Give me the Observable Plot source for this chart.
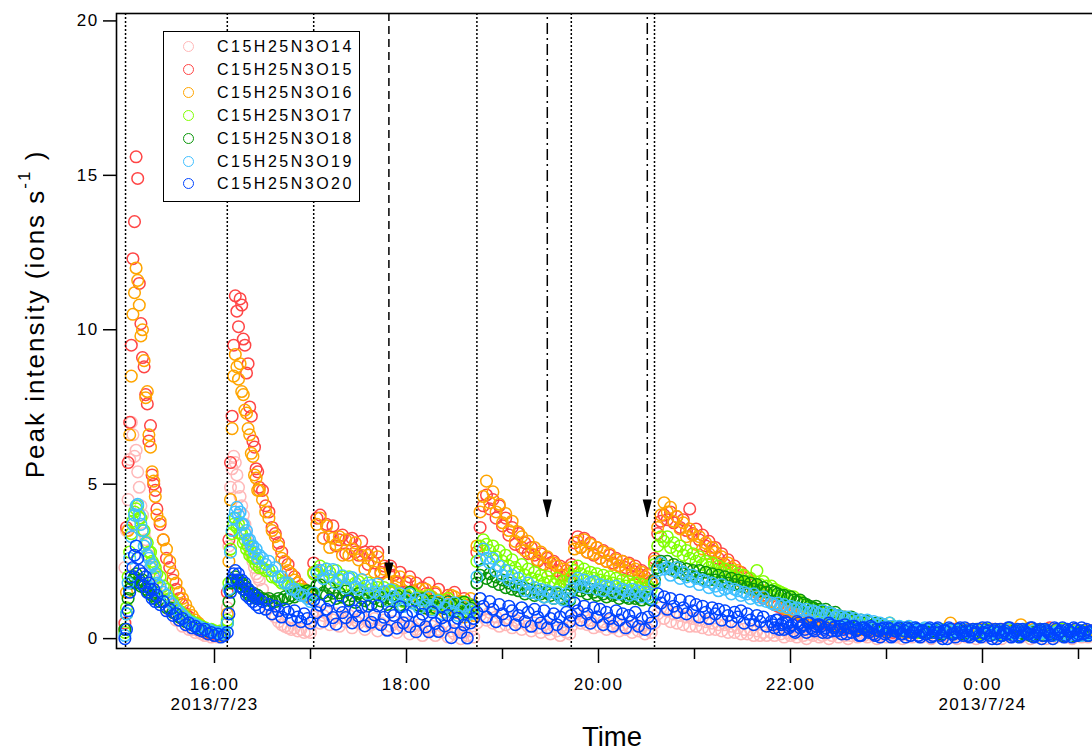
<!DOCTYPE html>
<html><head><meta charset="utf-8">
<script src="https://cdn.jsdelivr.net/npm/d3@7"></script>
<script src="https://cdn.jsdelivr.net/npm/@observablehq/plot@0.6"></script>
<style>
body{margin:0;background:#fff;}
#wrap{position:relative;width:1092px;height:751px;overflow:hidden;font-family:"Liberation Sans",Arial,Helvetica,sans-serif;}
#legend{position:absolute;left:163px;top:31px;width:197px;height:171px;box-sizing:border-box;border:1.4px solid #000;background:#fff;}
.row{position:absolute;left:0;height:20px;width:192px;line-height:20px;font-size:16px;letter-spacing:2.5px;white-space:nowrap;color:#000}
.sw{position:absolute;left:19px;top:4px;width:9px;height:9px;border:1.5px solid;border-radius:50%;}
.lab{position:absolute;left:53px;top:0;}
</style></head>
<body><div id="wrap"><div id="legend"></div></div>
<script>
// ---------- data (sample times in minutes after 15:00, 2013/7/23) ----------
const minutes = [
  4,5,6,7,8,9,10,11,12,13,14,15,16,17,18,19,20,21,22,23,24,
  26,28,30,32,34,36,38,40,42,44,46,48,50,52,54,56,58,60,62,64,66,
  68,69,70,71,72,73,74,75,76,77,78,79,80,81,82,83,84,85,86,87,88,
  90,92,94,96,98,100,102,104,106,108,110,112,114,116,118,120,
  122,124,126,128,130,132,134,136,138,140,142,144,146,148,150,152,154,156,158,160,162,164,166,168,170,172,174,176,178,180,182,184,186,188,190,192,194,196,198,200,202,204,206,208,210,212,214,216,218,220,222,
  224,226,228,230,232,234,236,238,240,242,244,246,248,250,252,254,256,258,260,262,264,266,268,270,272,274,276,278,280,282,
  283,285,287,289,291,293,295,297,299,301,303,305,307,309,311,313,315,317,319,321,323,325,327,329,331,333,
  335,337,339,341,343,345,347,349,351,353,355,357,359,361,363,365,367,369,371,373,375,377,379,381,383,385,387,389,391,393,395,397,399,401,403,405,
  408,410,412,414,416,418,420,422,424,426,428,430,432,434,436,438,440,442,444,446,448,450,452,454,456,458,460,462,464,466,468,470,472,474,476,478,480,482,484,486,488,490,492,494,496,498,500,502,504,506,508,510,512,514,516,518,520,522,524,526,528,530,532,534,536,538,540,542,544,546,548,550,552,554,556,558,560,562,564,566,568,570,572,574,576,578,580,582,584,586,588,590,592,594,596,598,600,602,604,606,608
];

const o14 = [
  2.3,3.5,4.5,5.8,7.0,6.6,5.9,6.1,5.4,4.9,4.3,4.0,3.4,3.2,2.7,2.7,2.3,2.3,1.9,2.0,1.7,
  1.6,1.3,1.2,0.9,0.9,0.6,0.6,0.4,0.45,0.3,0.3,0.2,0.25,0.15,0.1,0.15,0.05,0.1,0.05,0.1,0.15,
  1.0,3.0,4.9,5.5,5.9,5.7,5.3,4.9,4.6,4.3,4.0,3.7,3.4,3.1,2.9,2.7,2.5,2.3,2.1,2.0,1.9,
  1.6,1.3,1.0,0.8,0.7,0.55,0.45,0.4,0.35,0.3,0.35,0.25,0.3,0.2,0.25,0.2,
  0.7,0.9,0.5,0.75,0.85,0.45,0.6,0.8,0.4,0.65,0.55,0.75,0.35,0.6,0.5,0.7,0.3,0.55,0.45,0.65,0.25,0.5,0.6,0.3,0.4,0.55,0.2,0.45,0.35,0.5,0.15,0.4,0.3,0.45,0.1,0.35,0.25,0.4,0.1,0.3,0.2,0.35,0.05,0.25,0.15,0.3,0.0,0.2,0.1,0.25,0.05,
  0.5,0.75,0.95,0.6,0.85,0.5,0.7,0.4,0.8,0.45,0.65,0.35,0.6,0.5,0.3,0.55,0.4,0.25,0.5,0.35,0.2,0.45,0.3,0.15,0.4,0.25,0.1,0.35,0.2,0.15,
  0.4,0.65,0.8,0.5,0.7,0.45,0.6,0.35,0.7,0.4,0.55,0.3,0.6,0.35,0.5,0.25,0.45,0.3,0.4,0.2,0.45,0.25,0.35,0.15,0.3,0.2,
  0.5,0.8,1.0,0.65,0.9,0.55,0.8,0.5,0.75,0.45,0.7,0.4,0.65,0.4,0.6,0.35,0.55,0.3,0.5,0.3,0.45,0.25,0.45,0.2,0.4,0.2,0.35,0.15,0.3,0.15,0.3,0.1,0.25,0.1,0.2,0.1,
  0.2,0.1,0.25,0.15,0.05,0.2,0.1,0.15,0.05,0.2,0.1,0.0,0.15,0.1,0.2,0.05,0.1,0.15,0.0,0.1,0.2,0.05,0.15,0.1,0.0,0.1,0.15,0.05,0.2,0.1,0.05,0.15,0.1,0.0,0.1,0.2,0.05,0.1,0.15,0.05,0.1,0.0,0.15,0.1,0.05,0.2,0.1,0.05,0.15,0.1,
  0.0,0.1,0.15,0.05,0.1,0.2,0.05,0.1,0.0,0.15,0.1,0.05,0.15,0.1,0.0,0.1,0.2,0.05,0.1,0.15,0.05,0.1,0.0,0.15,0.1,0.05,0.2,0.1,0.05,0.1,0.15,0.0,0.1,0.05,0.15,0.1,0.0,0.1,0.2,0.05,0.1,0.15,0.05,0.1,0.0,0.1,0.15,0.05,0.1,0.05,0.1
];
const o15 = [
  0.5,3.6,5.7,7.0,9.5,12.3,13.5,15.6,14.9,11.5,10.2,9.1,8.8,7.9,7.6,6.4,6.9,5.3,5.0,4.8,4.2,
  3.7,3.2,2.6,2.3,1.9,1.6,1.3,1.1,0.8,0.7,0.5,0.45,0.3,0.3,0.2,0.25,0.15,0.1,0.2,0.1,0.15,
  1.5,3.2,5.7,7.2,9.5,11.1,10.6,10.1,11.0,10.8,9.7,9.5,8.6,8.9,7.5,7.2,6.4,6.2,5.5,5.4,4.9,
  4.8,4.3,4.1,3.6,3.4,3.1,2.8,2.5,2.4,2.1,2.0,1.8,1.7,1.6,1.4,1.5,
  2.45,3.9,4.0,3.25,3.7,3.3,3.65,3.0,3.2,3.35,2.75,3.2,3.25,2.8,2.7,3.15,2.8,2.4,2.8,2.45,2.8,2.15,2.35,1.85,2.35,2.05,1.8,2.15,1.5,1.8,2.0,1.55,1.8,1.3,1.65,1.45,1.8,1.2,1.45,1.6,1.0,1.25,1.4,1.05,1.5,0.85,1.15,1.3,0.85,1.1,0.95,
  2.8,3.6,4.3,4.65,4.2,4.5,3.9,4.3,3.65,3.9,3.35,3.6,3.05,3.4,2.95,3.1,2.75,2.95,2.7,2.5,2.75,2.4,2.6,2.45,2.5,2.2,2.35,2.05,2.2,1.9,
  2.4,3.1,3.3,2.95,3.25,2.8,3.1,2.7,2.95,2.6,2.85,2.5,2.7,2.45,2.6,2.35,2.5,2.3,2.45,2.2,2.35,2.1,2.2,2.0,2.1,1.85,
  2.6,3.4,3.8,4.0,3.85,4.1,3.75,3.95,3.6,3.85,3.5,4.2,3.4,3.55,3.2,3.35,3.0,3.15,2.85,2.95,2.6,2.75,2.4,2.55,2.2,2.35,2.0,2.15,1.8,1.95,1.6,1.75,1.5,1.55,1.3,1.4,
  1.2,1.1,1.05,1.0,0.95,0.9,0.85,0.8,0.8,0.75,0.7,0.65,0.65,0.6,0.55,0.55,0.5,0.5,0.45,0.45,0.4,0.45,0.4,0.35,0.4,0.35,0.3,0.35,0.3,0.35,0.3,0.25,0.3,0.35,0.25,0.3,0.25,0.3,0.2,0.3,0.25,0.3,0.2,0.25,0.3,0.2,0.25,0.3,0.2,0.25,
  0.3,0.2,0.25,0.2,0.3,0.25,0.2,0.3,0.2,0.25,0.2,0.3,0.25,0.2,0.25,0.3,0.2,0.25,0.2,0.3,0.25,0.2,0.3,0.2,0.25,0.2,0.3,0.25,0.2,0.25,0.3,0.2,0.25,0.2,0.3,0.2,0.25,0.35,0.2,0.25,0.2,0.3,0.2,0.25,0.2,0.3,0.25,0.2,0.25,0.2,0.25
];
const o16 = [
  0.3,1.5,3.5,6.6,8.5,10.5,11.2,12.0,11.6,10.8,9.8,10.0,9.0,7.8,8.0,6.6,6.2,5.4,5.1,4.6,4.0,
  3.8,3.2,2.9,2.5,2.1,1.8,1.5,1.3,1.1,0.9,0.75,0.6,0.5,0.4,0.3,0.3,0.2,0.2,0.15,0.1,0.15,
  0.8,2.5,4.5,6.8,8.5,9.2,8.8,8.4,8.9,8.0,7.9,7.4,7.3,6.8,6.6,6.0,5.9,5.3,5.2,4.8,4.8,
  4.5,4.1,3.9,3.5,3.3,3.0,2.6,2.5,2.2,2.1,1.9,1.8,1.6,1.6,1.4,1.3,
  2.15,3.7,3.9,3.25,3.65,2.95,3.25,3.05,3.3,2.7,3.2,2.7,2.9,3.1,2.55,2.7,2.25,2.7,2.55,2.15,2.65,2.1,2.25,1.8,2.2,1.6,1.85,2.0,1.55,1.35,1.85,1.5,1.25,1.6,1.35,1.6,0.95,1.35,1.5,1.05,1.25,0.85,1.3,1.4,1.35,1.0,1.2,0.7,1.05,1.3,0.75,
  3.0,4.1,4.6,5.1,4.4,4.75,4.1,4.35,3.75,4.05,3.5,3.8,3.15,3.45,3.3,2.85,3.15,2.75,2.95,2.55,2.8,2.4,2.65,2.2,2.45,2.35,2.05,2.25,1.9,2.1,
  2.3,2.9,3.15,2.95,3.2,2.8,3.05,2.75,2.95,2.6,2.8,2.5,2.75,2.4,2.55,2.35,2.5,2.2,2.4,2.1,2.25,2.0,2.15,1.9,2.05,1.8,
  2.5,3.6,4.0,4.4,4.1,4.25,3.8,3.95,3.55,3.75,3.3,3.55,3.35,3.05,3.3,2.9,3.1,2.75,2.95,2.8,2.45,2.65,2.25,2.45,2.3,2.0,2.2,1.85,2.0,1.7,1.85,1.55,1.7,1.45,1.55,1.35,
  1.2,1.15,1.1,1.05,1.0,0.95,0.9,0.85,0.85,0.8,0.75,0.7,0.7,0.65,0.6,0.6,0.55,0.55,0.5,0.5,0.45,0.45,0.4,0.45,0.4,0.35,0.4,0.35,0.3,0.35,0.3,0.35,0.3,0.25,0.35,0.3,0.25,0.3,0.35,0.25,0.3,0.25,0.3,0.2,0.3,0.25,0.25,0.3,0.2,0.25,
  0.3,0.2,0.25,0.3,0.2,0.25,0.5,0.2,0.25,0.2,0.3,0.25,0.2,0.3,0.25,0.2,0.3,0.2,0.2,0.25,0.3,0.2,0.25,0.2,0.3,0.25,0.2,0.25,0.45,0.2,0.25,0.2,0.3,0.2,0.25,0.2,0.3,0.25,0.2,0.25,0.2,0.3,0.2,0.25,0.2,0.3,0.2,0.25,0.2,0.25,0.2
];
const o17 = [
  0.2,1.0,2.0,2.8,3.4,3.8,4.1,4.2,4.3,3.9,3.9,3.5,3.5,3.1,3.1,2.8,2.8,2.5,2.4,2.3,2.1,
  2.0,1.7,1.6,1.3,1.2,1.0,0.9,0.8,0.7,0.6,0.55,0.5,0.45,0.4,0.35,0.3,0.3,0.25,0.2,0.25,0.2,
  0.6,1.8,2.9,3.4,3.7,3.9,3.6,3.7,3.4,3.4,3.1,3.2,2.9,3.0,2.7,2.8,2.6,2.6,2.4,2.5,2.3,
  2.3,2.2,2.2,2.0,2.0,1.9,1.8,1.8,1.7,1.7,1.6,1.6,1.55,1.5,1.5,1.45,
  2.1,2.2,2.35,2.0,2.25,2.15,1.9,2.2,1.9,2.0,1.75,2.0,1.65,1.8,1.85,1.6,1.5,1.8,1.6,1.45,1.65,1.5,1.65,1.25,1.5,1.55,1.3,1.4,1.2,1.4,1.45,1.45,1.25,1.35,1.05,1.25,1.4,1.1,0.95,1.25,1.12,1.05,1.3,0.9,1.1,1.0,1.15,0.8,1.15,0.85,1.0,
  2.5,3.0,3.2,3.05,2.85,3.0,2.65,2.85,2.5,2.7,2.35,2.55,2.3,2.15,2.4,2.05,2.25,1.95,2.15,1.9,2.05,1.8,2.0,1.85,1.75,1.95,1.7,1.85,1.65,1.8,
  2.0,2.2,2.35,2.1,2.25,2.0,2.15,1.95,2.1,1.9,2.05,1.85,2.0,1.8,1.95,1.75,1.9,1.7,1.85,1.7,1.8,1.65,1.75,1.6,1.7,1.6,
  2.4,3.0,3.3,3.15,3.3,2.95,3.1,2.85,3.0,2.7,2.85,2.6,2.75,2.5,2.65,2.4,2.5,2.3,2.45,2.2,2.35,2.15,2.25,2.05,2.2,2.0,2.1,1.9,2.05,1.85,1.95,1.8,2.2,1.75,1.85,1.7,
  1.7,1.6,1.55,1.5,1.45,1.4,1.35,1.35,1.25,1.2,1.1,1.05,1.0,1.0,0.95,0.9,0.85,0.85,0.8,0.75,0.75,0.7,0.65,0.6,0.6,0.55,0.55,0.5,0.5,0.45,0.45,0.4,0.45,0.4,0.35,0.4,0.35,0.5,0.35,0.3,0.3,0.25,0.3,0.35,0.25,0.3,0.2,0.3,0.25,0.2,
  0.3,0.25,0.2,0.3,0.25,0.2,0.3,0.2,0.25,0.2,0.3,0.2,0.25,0.2,0.3,0.15,0.25,0.2,0.3,0.2,0.25,0.15,0.2,0.25,0.3,0.2,0.15,0.25,0.2,0.3,0.2,0.15,0.25,0.2,0.3,0.15,0.25,0.2,0.15,0.25,0.2,0.3,0.15,0.2,0.25,0.2,0.15,0.25,0.2,0.15,0.2
];
const o18 = [
  0.3,0.8,1.3,1.6,1.8,1.9,2.0,2.1,1.8,1.9,1.7,1.9,1.7,1.6,1.7,1.5,1.6,1.4,1.5,1.3,1.35,
  1.2,1.2,1.0,1.0,0.85,0.8,0.7,0.65,0.55,0.5,0.45,0.4,0.35,0.35,0.3,0.25,0.25,0.2,0.2,0.15,0.2,
  0.5,1.2,1.6,1.8,1.9,2.0,1.8,1.9,1.7,1.8,1.6,1.7,1.5,1.6,1.4,1.5,1.4,1.45,1.3,1.4,1.3,
  1.3,1.25,1.3,1.2,1.2,1.3,1.25,1.35,1.3,1.4,1.35,1.45,1.5,1.4,1.55,1.5,
  1.42,1.72,1.74,1.48,1.39,1.64,1.47,1.3,1.49,1.34,1.54,1.26,1.39,1.17,1.46,1.31,1.23,1.41,1.11,1.3,1.43,1.22,1.34,1.11,1.3,1.2,1.39,1.09,1.24,1.32,1.5,1.16,1.24,1.07,1.29,0.99,1.13,1.21,1.0,1.13,1.05,0.97,1.19,1.09,0.87,1.13,0.99,1.18,0.86,0.98,1.06,
  1.8,2.05,2.25,1.95,2.1,1.85,2.0,1.75,1.9,1.65,1.8,1.6,1.7,1.55,1.65,1.45,1.6,1.5,1.4,1.55,1.45,1.35,1.5,1.4,1.3,1.45,1.35,1.3,1.4,1.25,
  1.5,1.65,1.7,1.55,1.65,1.45,1.6,1.5,1.4,1.55,1.45,1.35,1.5,1.4,1.45,1.3,1.45,1.35,1.3,1.4,1.3,1.35,1.25,1.35,1.3,1.25,
  1.9,2.3,2.5,2.35,2.5,2.25,2.4,2.15,2.3,2.1,2.25,2.05,2.2,2.0,2.2,1.95,2.15,1.9,2.1,1.9,2.05,1.85,2.0,1.8,1.95,1.75,1.9,1.7,1.85,1.65,1.8,1.6,1.75,1.55,1.65,1.5,
  1.55,1.5,1.45,1.4,1.4,1.3,1.35,1.25,1.2,1.25,1.15,1.1,1.05,1.0,1.05,0.95,0.9,0.95,0.85,0.8,0.85,0.75,0.7,0.7,0.65,0.7,0.6,0.55,0.6,0.5,0.55,0.5,0.45,0.5,0.4,0.45,0.4,0.35,0.4,0.35,0.3,0.35,0.3,0.25,0.3,0.25,0.3,0.2,0.25,0.3,
  0.2,0.25,0.2,0.15,0.25,0.2,0.25,0.15,0.2,0.25,0.15,0.2,0.25,0.15,0.2,0.1,0.2,0.25,0.15,0.2,0.15,0.25,0.1,0.2,0.15,0.2,0.25,0.1,0.2,0.15,0.2,0.1,0.2,0.15,0.25,0.1,0.15,0.2,0.1,0.15,0.2,0.1,0.15,0.2,0.1,0.15,0.1,0.2,0.15,0.1,0.15
];
const o19 = [
  0.1,0.8,1.8,2.6,3.3,3.7,4.0,4.3,4.35,4.0,3.7,3.5,3.0,3.1,2.7,2.6,2.3,2.4,2.0,2.1,1.8,
  1.7,1.5,1.4,1.2,1.1,0.95,0.85,0.75,0.65,0.55,0.5,0.45,0.4,0.35,0.3,0.3,0.25,0.2,0.2,0.15,0.2,
  0.5,1.6,2.8,3.5,3.9,4.1,4.25,4.0,4.1,3.7,3.7,3.4,3.5,3.2,3.2,3.0,3.0,2.8,2.9,2.6,2.7,
  2.6,2.4,2.5,2.2,2.3,2.0,2.0,1.8,1.8,1.6,1.6,1.5,1.4,1.4,1.3,1.2,
  1.48,2.13,2.21,1.94,2.25,2.02,2.24,1.79,1.94,2.03,1.64,1.94,1.98,1.68,1.59,1.91,1.7,1.45,1.72,1.51,1.77,1.38,1.53,1.23,1.58,1.37,1.25,1.46,1.04,1.28,1.44,1.15,1.31,0.99,1.24,1.09,1.34,0.93,1.12,1.22,0.81,1.0,1.1,0.88,1.16,0.75,0.94,1.05,0.76,0.93,0.82,
  2.0,2.55,2.9,2.6,2.45,2.6,2.2,2.35,2.05,2.2,1.9,2.05,1.75,1.95,1.7,1.55,1.8,1.5,1.65,1.45,1.6,1.35,1.55,1.5,1.3,1.5,1.35,1.25,1.45,1.3,
  1.6,1.85,1.95,1.7,1.9,1.65,1.8,1.85,1.6,1.75,1.55,1.7,1.65,1.5,1.7,1.45,1.6,1.55,1.4,1.6,1.45,1.55,1.35,1.5,1.4,1.3,
  1.8,2.2,2.45,2.25,2.3,2.05,2.2,2.3,1.95,2.15,2.0,1.85,2.05,1.95,1.75,1.9,1.85,1.65,1.8,1.7,1.55,1.75,1.6,1.65,1.45,1.6,1.55,1.4,1.5,1.45,1.3,1.45,1.35,1.25,1.35,1.2,
  1.15,1.1,1.15,1.05,1.1,1.0,1.05,0.95,1.0,0.95,0.9,0.95,0.85,0.9,0.85,0.8,0.9,0.75,0.85,0.8,0.7,0.75,0.7,0.65,0.7,0.6,0.65,0.55,0.6,0.55,0.6,0.5,0.55,0.45,0.5,0.45,0.4,0.5,0.4,0.35,0.4,0.35,0.3,0.4,0.3,0.35,0.25,0.3,0.35,0.25,
  0.3,0.2,0.3,0.25,0.2,0.3,0.25,0.15,0.25,0.2,0.3,0.15,0.2,0.25,0.2,0.1,0.25,0.2,0.15,0.25,0.2,0.1,0.25,0.15,0.2,0.3,0.15,0.2,0.1,0.25,0.2,0.15,0.25,0.1,0.2,0.25,0.15,0.2,0.1,0.2,0.25,0.15,0.2,0.1,0.2,0.15,0.25,0.1,0.2,0.15,0.2
];
const o20 = [
  0.0,0.3,0.9,1.5,2.0,2.3,2.7,3.0,2.6,2.2,1.8,2.1,1.7,2.0,1.5,1.8,1.6,1.3,1.6,1.2,1.4,
  1.1,1.2,0.9,0.95,0.75,0.8,0.6,0.65,0.45,0.5,0.35,0.4,0.3,0.25,0.3,0.15,0.2,0.1,0.15,0.05,0.1,
  0.2,0.8,1.5,1.9,2.1,2.2,1.9,2.1,1.7,1.9,1.6,1.8,1.4,1.6,1.3,1.5,1.2,1.4,1.1,1.3,1.0,
  1.2,0.95,1.1,0.8,1.05,0.9,0.7,0.95,0.85,0.6,0.9,0.7,0.55,0.8,0.65,0.5,
  1.25,0.84,1.08,0.56,0.95,1.24,0.68,0.47,1.05,0.84,0.68,1.22,0.51,0.89,0.73,1.02,0.41,1.05,0.53,0.77,1.06,0.45,0.69,0.27,0.86,0.75,0.34,1.03,0.51,0.75,0.39,0.88,0.22,0.6,0.79,0.38,0.22,0.86,0.49,0.23,0.67,0.41,0.75,0.03,0.52,0.66,0.2,0.44,0.02,0.51,0.65,
  0.85,1.3,1.05,0.7,1.2,0.95,0.55,1.1,0.8,0.6,1.05,0.9,0.45,0.75,1.0,0.55,0.85,0.4,0.95,0.7,0.5,0.9,0.35,0.65,0.8,0.45,0.7,0.3,0.85,0.55,
  0.75,1.15,0.9,0.6,1.05,0.8,0.5,1.0,0.7,0.95,0.45,0.85,0.65,0.4,0.9,0.6,0.8,0.35,0.75,0.55,0.85,0.4,0.65,0.3,0.7,0.5,
  0.9,1.45,1.15,1.35,0.95,1.3,1.05,0.85,1.25,1.0,0.8,1.2,0.9,1.1,0.7,1.05,0.85,0.65,1.0,0.8,0.95,0.6,0.9,0.75,0.55,0.85,0.7,0.9,0.5,0.8,0.6,0.45,0.75,0.55,0.7,0.4,
  0.55,0.35,0.6,0.45,0.3,0.5,0.4,0.25,0.55,0.35,0.45,0.2,0.5,0.3,0.4,0.45,0.2,0.35,0.5,0.25,0.4,0.3,0.15,0.45,0.35,0.2,0.4,0.3,0.1,0.35,0.25,0.4,0.15,0.3,0.05,0.35,0.2,0.3,0.1,0.25,0.35,0.15,0.05,0.3,0.2,0.35,0.1,0.25,0.15,0.3,
  0.05,0.2,0.35,0.1,0.25,0.0,0.3,0.15,0.2,0.35,0.1,0.25,0.05,0.3,0.2,0.1,0.35,0.15,0.25,0.0,0.3,0.2,0.1,0.25,0.35,0.05,0.2,0.3,0.1,0.25,0.15,0.35,0.05,0.2,0.3,0.1,0.25,0.15,0.0,0.3,0.2,0.35,0.1,0.25,0.05,0.3,0.15,0.35,0.2,0.1,0.25
];
// C15H25N3O20 is sampled more densely in the late tail (odd minutes)
const o20TailMinutes = [
  409,411,413,415,417,419,421,423,425,427,429,431,433,435,437,439,441,443,445,447,449,451,453,455,457,459,461,463,465,467,469,471,473,475,477,479,481,483,485,487,489,491,493,495,497,499,501,503,505,507,
  509,511,513,515,517,519,521,523,525,527,529,531,533,535,537,539,541,543,545,547,549,551,553,555,557,559,561,563,565,567,569,571,573,575,577,579,581,583,585,587,589,591,593,595,597,599,601,603,605,607
];
const o20Tail = [
  0.45,0.6,0.3,0.5,0.55,0.35,0.45,0.2,0.5,0.4,0.3,0.5,0.35,0.25,0.45,0.4,0.3,0.2,0.45,0.35,0.25,0.4,0.3,0.15,0.35,0.4,0.25,0.1,0.35,0.3,0.2,0.35,0.1,0.25,0.3,0.15,0.35,0.05,0.25,0.3,0.15,0.25,0.35,0.1,0.2,0.3,0.05,0.25,0.15,0.35,
  0.1,0.3,0.2,0.0,0.25,0.35,0.15,0.05,0.3,0.2,0.35,0.1,0.25,0.15,0.3,0.05,0.2,0.35,0.1,0.25,0.0,0.3,0.2,0.15,0.35,0.1,0.25,0.05,0.3,0.2,0.15,0.35,0.1,0.25,0.0,0.3,0.2,0.1,0.35,0.15,0.25,0.05,0.3,0.2,0.35,0.1,0.25,0.15,0.3,0.2
];

const seriesNames = ["C15H25N3O14","C15H25N3O15","C15H25N3O16","C15H25N3O17","C15H25N3O18","C15H25N3O19","C15H25N3O20"];
const seriesColors = ["#ffb8b8","#ff4545","#ffa500","#80ff00","#0a960a","#40c0ff","#0044ff"];
const seriesValues = [o14,o15,o16,o17,o18,o19,o20];

// event markers (minutes after 15:00)
const dottedLines = [4.4, 68, 122, 224, 283, 335];
const dashedArrows = [{minute: 169, tip: 1.88}];
const dashDotArrows = [{minute: 268, tip: 3.92}, {minute: 330.5, tip: 3.92}];

// axis ticks
const yTicks = [0, 5, 10, 15, 20];
const majorTickMinutes = [60, 180, 300, 420, 540];
const majorTickLabels = ["16:00\n2013/7/23", "18:00", "20:00", "22:00", "0:00\n2013/7/24"];
const minorTickMinutes = [120, 240, 360, 480, 600];
const xDomainMinutes = [-1.25, 610];
const yDomain = [-0.32, 20.24];

// ---------- build ----------
const base = new Date(2013, 6, 23, 15, 0, 0).getTime();
const toDate = m => new Date(base + m * 60000);

const points = [];
seriesNames.forEach((name, k) => {
  seriesValues[k].forEach((v, i) => {
    if (minutes[i] !== undefined) points.push({time: toDate(minutes[i]), value: v, series: name});
  });
});
o20Tail.forEach((v, i) => {
  if (o20TailMinutes[i] !== undefined) points.push({time: toDate(o20TailMinutes[i]), value: v, series: seriesNames[6]});
});

const labelMap = new Map(majorTickMinutes.map((m, i) => [toDate(m).getTime(), majorTickLabels[i]]));

const arrowHead = {
  draw(context) {
    context.moveTo(0, 0);
    context.lineTo(-4.6, -18);
    context.lineTo(4.6, -18);
    context.closePath();
  }
};

const svg = Plot.plot({
  width: 1092,
  height: 751,
  marginLeft: 116,
  marginRight: -2,
  marginTop: 13,
  marginBottom: 103,
  style: {fontFamily: "'Liberation Sans', Arial, Helvetica, sans-serif", fontSize: "17px", letterSpacing: "1.4px", color: "black", background: "white"},
  x: {type: "time", domain: xDomainMinutes.map(toDate)},
  y: {domain: yDomain},
  color: {domain: seriesNames, range: seriesColors},
  marks: [
    Plot.dot(points, {x: "time", y: "value", stroke: "series", r: 5.8, strokeWidth: 1.5, fill: "none"}),
    Plot.ruleX(dottedLines.map(toDate), {stroke: "black", strokeWidth: 1.5, strokeDasharray: "2,2"}),
    Plot.ruleX(dashedArrows, {x: d => toDate(d.minute), y1: d => d.tip, y2: yDomain[1], stroke: "black", strokeWidth: 1.5, strokeDasharray: "8,5"}),
    Plot.ruleX(dashDotArrows, {x: d => toDate(d.minute), y1: d => d.tip, y2: yDomain[1], stroke: "black", strokeWidth: 1.5, strokeDasharray: "11,4,2,4"}),
    Plot.dot([...dashedArrows, ...dashDotArrows], {x: d => toDate(d.minute), y: "tip", symbol: arrowHead, r: 5, fill: "black", stroke: "none"}),
    Plot.frame({stroke: "black", strokeWidth: 1.6}),
    Plot.axisY(yTicks, {tickSize: 13, tickPadding: 5, fontSize: 17, label: null, strokeWidth: 1.5}),
    Plot.axisX(majorTickMinutes.map(toDate), {tickSize: 15, tickPadding: 12, fontSize: 17, lineHeight: 1.18, label: null, strokeWidth: 1.5, tickFormat: d => labelMap.get(d.getTime())}),
    Plot.axisX(minorTickMinutes.map(toDate), {tickSize: 11, label: null, strokeWidth: 1.5, tickFormat: () => ""})
  ]
});

const sel = d3.select(svg);
sel.append("text")
  .attr("x", 612).attr("y", 746)
  .attr("text-anchor", "middle")
  .attr("font-size", 27.5)
  .attr("letter-spacing", "0px")
  .attr("fill", "black")
  .text("Time");
const yl = sel.append("text")
  .attr("transform", "translate(44,314) rotate(-90)")
  .attr("text-anchor", "middle")
  .attr("font-size", 26)
  .attr("letter-spacing", "2px")
  .attr("fill", "black");
yl.append("tspan").text("Peak intensity (ions s");
yl.append("tspan").attr("dy", -14).attr("font-size", 17).text("-1");
yl.append("tspan").attr("dy", 14).text(" )");

const wrap = document.getElementById("wrap");
wrap.insertBefore(svg, wrap.firstChild);

// legend
const legend = document.getElementById("legend");
seriesNames.forEach((name, i) => {
  const row = document.createElement("div");
  row.className = "row";
  row.style.top = (5 + i * 22.9) + "px";
  const sw = document.createElement("span");
  sw.className = "sw";
  sw.style.borderColor = seriesColors[i];
  const lab = document.createElement("span");
  lab.className = "lab";
  lab.textContent = name;
  row.appendChild(sw);
  row.appendChild(lab);
  legend.appendChild(row);
});
</script></body></html>
